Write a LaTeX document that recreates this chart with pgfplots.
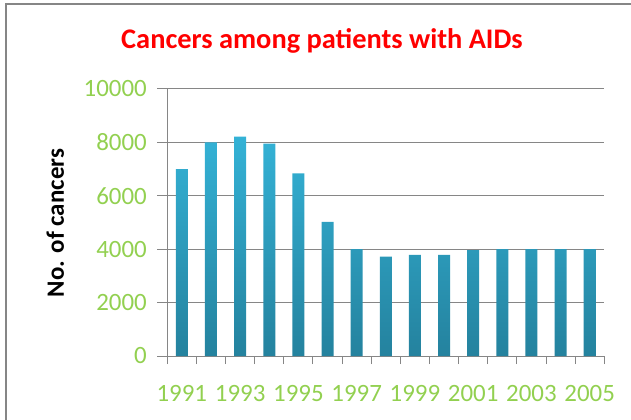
\documentclass[border=0pt]{standalone}
\usepackage{pgfplots}
\pgfplotsset{compat=1.18}
\usepackage{fontspec}
\setmainfont{Carlito}
\definecolor{tickgreen}{RGB}{146,208,80}
\definecolor{gridgray}{RGB}{134,134,134}
\definecolor{bartop}{RGB}{52,178,214}
\definecolor{barbot}{RGB}{36,130,158}
\begin{document}
\begin{tikzpicture}
\begin{axis}[
  at={(0,0)}, anchor=south west,
  scale only axis,
  width=437bp, height=267bp,
  xmin=0.5, xmax=15.5,
  ymin=0, ymax=10000,
  axis x line*=bottom, axis y line*=left,
  axis line style={gridgray, line width=1bp, -},
  ytick={0,2000,...,10000},
  scaled y ticks=false,
  ymajorgrids,
  grid style={gridgray, line width=1bp},
  tick style={gridgray, line width=1bp},
  tick align=outside,
  major tick length=10bp,
  xtick={1,3,...,15},
  xticklabels={1991,1993,1995,1997,1999,2001,2003,2005},
  minor xtick={0.5,1.5,...,15.5},
  major x tick style={draw=none},
  minor tick length=8bp,
  /pgf/number format/assume math mode=true,
  /pgf/number format/1000 sep={},
  ticklabel style={font=\fontsize{25}{29}\selectfont, text=tickgreen},
  xticklabel style={yshift=-16bp},
  yticklabel style={xshift=-7bp},
  ylabel={No. of cancers},
  every axis y label/.style={at={(axis description cs:-0.2563,0.498)}, rotate=90, anchor=center, font=\bfseries\fontsize{25}{30}\selectfont},
  title={Cancers among patients with AIDs},
  every axis title/.style={at={(axis description cs:0.354,1.1524)}, anchor=base, font=\bfseries\fontsize{28.5}{32}\selectfont, text=red},
]
\addplot[ybar, bar width=12bp, draw=none, top color=bartop, bottom color=barbot] coordinates {
(1,7000) (2,8000) (3,8220) (4,7950) (5,6840) (6,5020) (7,4000) (8,3720) (9,3790) (10,3790) (11,3970) (12,4000) (13,4000) (14,4000) (15,4000)
};
\end{axis}
\pgfresetboundingbox
\path[use as bounding box] (-167.3bp,-64bp) rectangle (463.7bp,356bp);
\fill[gridgray] (-162.3bp,-70bp) rectangle (-160.3bp,353bp);
\fill[gridgray] (-162.3bp,351bp) rectangle (470bp,353bp);
\end{tikzpicture}
\end{document}
